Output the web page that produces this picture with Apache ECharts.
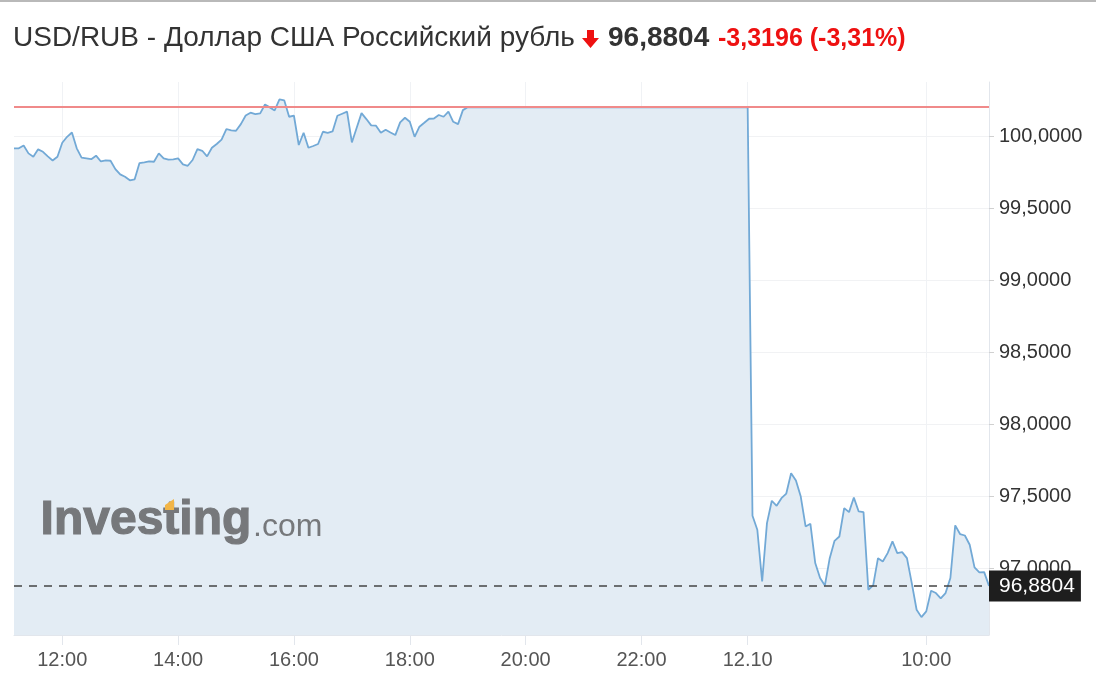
<!DOCTYPE html>
<html>
<head>
<meta charset="utf-8">
<title>USD/RUB</title>
<script src="https://cdn.jsdelivr.net/npm/echarts/dist/echarts.min.js"></script>
<style>
  body { margin: 0; background: #fff; }
  .top-border { position: absolute; left: 0; top: 0; width: 1096px; height: 2px; background: #b9b9b9; }
  #chart { width: 1096px; height: 680px; }
</style>
</head>
<body>
<div class="top-border"></div>
<div id="chart"></div>
<script>
// 5-minute quotes, 11.10 from 11:10 to 23:45, 12.10 from 06:55 to 11:05
const day1Start = [11, 10]
const day2Start = [6, 55]
const day2Label = '12.10'

const day1Values = [
  99.915, 99.915, 99.935, 99.880, 99.857, 99.908, 99.891, 99.859, 99.831, 99.857,
  99.954, 99.995, 100.025, 99.915, 99.850, 99.845, 99.840, 99.864, 99.824, 99.831,
  99.829, 99.771, 99.734, 99.718, 99.693, 99.700, 99.813, 99.818, 99.824, 99.822,
  99.880, 99.845, 99.836, 99.838, 99.845, 99.804, 99.794, 99.834, 99.910, 99.898,
  99.859, 99.919, 99.945, 99.975, 100.049, 100.039, 100.037, 100.083, 100.143, 100.162,
  100.152, 100.157, 100.219, 100.199, 100.178, 100.254, 100.247, 100.134, 100.141, 99.938,
  100.023, 99.919, 99.931, 99.945, 100.030, 100.023, 100.032, 100.141, 100.155, 100.169,
  99.956, 100.058, 100.159, 100.118, 100.074, 100.072, 100.023, 100.044, 100.025, 100.007,
  100.095, 100.127, 100.099, 99.995, 100.065, 100.092, 100.120, 100.122, 100.146, 100.134,
  100.169, 100.099, 100.083, 100.180, 100.2, 100.2, 100.2, 100.2, 100.2, 100.2,
  100.2, 100.2, 100.2, 100.2, 100.2, 100.2, 100.2, 100.2, 100.2, 100.2,
  100.2, 100.2, 100.2, 100.2, 100.2, 100.2, 100.2, 100.2, 100.2, 100.2,
  100.2, 100.2, 100.2, 100.2, 100.2, 100.2, 100.2, 100.2, 100.2, 100.2,
  100.2, 100.2, 100.2, 100.2, 100.2, 100.2, 100.2, 100.2, 100.2, 100.2,
  100.2, 100.2, 100.2, 100.2, 100.2, 100.2, 100.2, 100.2, 100.2, 100.2,
  100.2, 100.2
]
const day2Values = [
  100.2, 97.367, 97.270, 96.911, 97.316, 97.471, 97.436, 97.489, 97.521, 97.662,
  97.611, 97.500, 97.293, 97.311, 97.039, 96.935, 96.884, 97.073, 97.193, 97.223,
  97.420, 97.392, 97.493, 97.397, 97.392, 96.854, 96.884, 97.073, 97.050, 97.108,
  97.189, 97.108, 97.115, 97.073, 96.900, 96.715, 96.664, 96.704, 96.847, 96.831,
  96.794, 96.831, 96.935, 97.300, 97.240, 97.230, 97.166, 97.009, 96.974, 96.976,
  96.8804
]

const shownLabels = ['12:00', '14:00', '16:00', '18:00', '20:00', '22:00', '12.10', '10:00']
const prevClose = 100.2
const lastPrice = 96.8804
const titleName = 'USD/RUB - Доллар США Российский рубль'
const titlePrice = '96,8804'
const titleChange = '-3,3196 (-3,31%)'

const pad = (n) => (n < 10 ? '0' + n : '' + n)
const buildTimes = (start, count) => {
  const out = []
  let m = start[0] * 60 + start[1]
  for (let i = 0; i < count; i++) {
    out.push(pad(Math.floor(m / 60)) + ':' + pad(m % 60))
    m += 5
  }
  return out
}
const day2Times = buildTimes(day2Start, day2Values.length)
day2Times[0] = day2Label
const times = buildTimes(day1Start, day1Values.length).concat(day2Times)
const values = day1Values.concat(day2Values)

const fmt = (v) => v.toFixed(4).replace('.', ',')
const showTick = (idx, val) => shownLabels.includes(val)
const font = '"Liberation Sans", Arial, sans-serif'

const myChart = echarts.init(document.getElementById('chart'), null, { renderer: 'canvas' })

const option = {
  animation: false,
  textStyle: { fontFamily: font },
  grid: {
    top: 82,
    left: 14,
    right: 107,
    bottom: 45,
  },
  xAxis: {
    type: 'category',
    data: times,
    boundaryGap: false,
    axisLine: { lineStyle: { color: '#e2e6ec' } },
    axisTick: { show: true, interval: showTick, length: 10, lineStyle: { color: '#e2e6ec' } },
    axisLabel: { interval: showTick, color: '#555', fontSize: 20, margin: 15 },
    splitLine: { show: true, interval: showTick, lineStyle: { color: '#f0f2f5' } },
  },
  yAxis: {
    type: 'value',
    position: 'right',
    min: 96.54,
    max: 100.375,
    splitNumber: 8,
    minInterval: 0.5,
    maxInterval: 0.5,
    axisLine: { show: true, lineStyle: { color: '#e2e6ec' } },
    axisTick: { show: true, length: 5, lineStyle: { color: '#d0d0d0' } },
    axisLabel: {
      color: '#333',
      fontSize: 20,
      margin: 10,
      showMinLabel: false,
      showMaxLabel: false,
      formatter: (v) => fmt(v),
    },
    splitLine: { lineStyle: { color: '#f1f2f4' }, showMinLine: false, showMaxLine: false },
  },
  graphic: [
    // header
    {
      type: 'text',
      left: 13,
      top: 24,
      silent: true,
      style: { text: titleName, fill: '#333', font: '28px ' + font },
    },
    {
      type: 'polygon',
      silent: true,
      shape: { points: [[587, 30], [594, 30], [594, 38], [599, 38], [590.5, 48], [582, 38], [587, 38]] },
      style: { fill: '#ee1111' },
    },
    {
      type: 'text',
      left: 608,
      top: 24,
      silent: true,
      style: { text: titlePrice, fill: '#333', font: 'bold 28px ' + font },
    },
    {
      type: 'text',
      left: 718,
      top: 27,
      silent: true,
      style: { text: titleChange, fill: '#ee1111', font: 'bold 25px ' + font },
    },
    // watermark
    {
      type: 'text',
      left: 40,
      top: 496,
      z: 100,
      silent: true,
      style: { text: 'Investing', fill: '#76787b', stroke: '#76787b', lineWidth: 1.2, font: 'bold 48px ' + font },
    },
    {
      type: 'polygon',
      z: 101,
      silent: true,
      shape: { points: [[165, 505], [174, 499], [174, 510], [165, 510]] },
      style: { fill: '#f2b547' },
    },
    {
      type: 'text',
      left: 253,
      top: 511,
      z: 100,
      silent: true,
      style: { text: '.com', fill: '#76787b', font: '32px ' + font },
    },
  ],
  series: [
    {
      name: 'USD/RUB',
      type: 'line',
      data: values,
      symbol: 'none',
      z: 2,
      lineStyle: { color: '#72a9d6', width: 1.8 },
      areaStyle: { color: '#e3ecf4', opacity: 1 },
      markLine: {
        symbol: 'none',
        silent: true,
        animation: false,
        data: [
          {
            yAxis: lastPrice,
            lineStyle: { color: '#444', type: [8, 7], width: 1.5, opacity: 1 },
            label: {
              show: true,
              position: 'end',
              distance: 0,
              formatter: fmt(lastPrice),
              backgroundColor: '#1e1e1e',
              color: '#fff',
              fontSize: 21,
              padding: [5, 6, 5, 10],
            },
          },
          {
            name: 'prev close',
            yAxis: prevClose,
            lineStyle: { color: '#f08a8a', type: 'solid', width: 2, opacity: 1 },
            emphasis: { disabled: true },
            label: { show: false },
          },
        ],
      },
    },
  ],
}

myChart.setOption(option)
window.addEventListener('resize', function () {
  myChart.resize()
})
</script>
</body>
</html>
